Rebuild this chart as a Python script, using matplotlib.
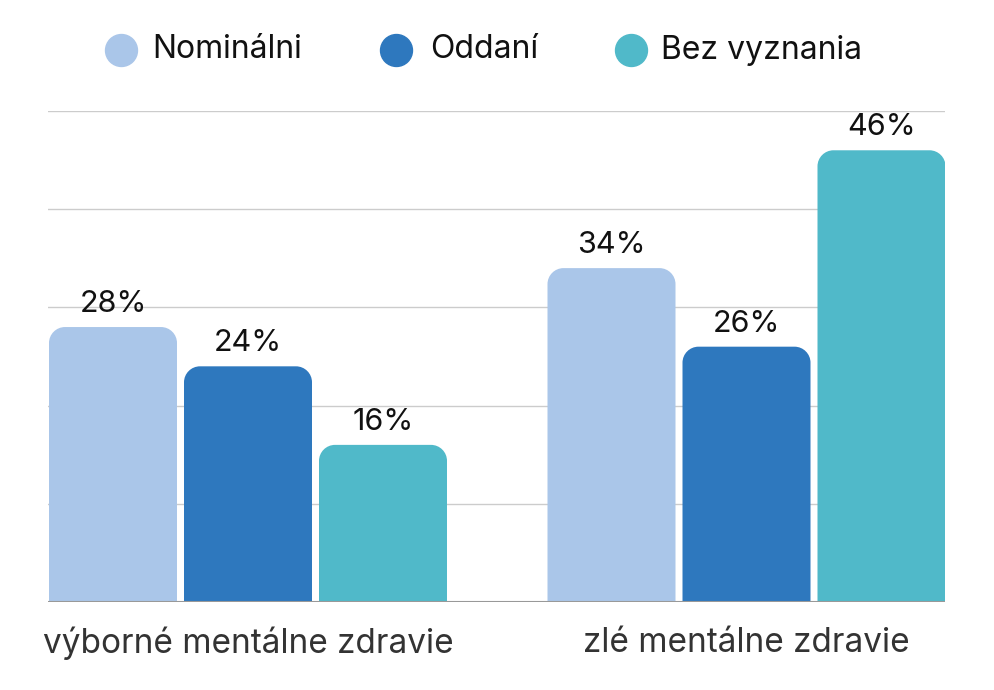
import matplotlib
matplotlib.use("Agg")
import matplotlib.pyplot as plt
from matplotlib.path import Path
from matplotlib.patches import PathPatch
import numpy as np

plt.rcParams['font.family'] = ['Inter', 'DejaVu Sans']

categories = ["výborné mentálne zdravie", "zlé mentálne zdravie"]
series_names = ["Nominálni", "Oddaní", "Bez vyznania"]
nominalni = [28, 34]
oddani = [24, 26]
bez_vyznania = [16, 46]
colors = ["#AAC6E9", "#2E78BE", "#50B9C9"]
gridvals = [10, 20, 30, 40, 50]

W, H = 994, 690
fig = plt.figure(figsize=(W/100, H/100), dpi=100)
ax = fig.add_axes([48/W, (H-602)/H, (945-48)/W, (602-111)/H])
xlim = (-200/498.5, 1 + 198.5/498.5)
ax.set_xlim(*xlim)
ax.set_ylim(0, 50)

px_x = (xlim[1]-xlim[0]) / (945-48)
px_y = 50 / (602-111)
r = 16
rx, ry = r*px_x, r*px_y

width = 128/498.5
step = 135/498.5
series = [nominalni, oddani, bez_vyznania]

for g in gridvals:
    ax.axhline(g, color="#CCCCCC", lw=1, zorder=0)
ax.axhline(0, color="#999999", lw=1.5, zorder=3)

def rounded_bar(x0, w, h, color):
    x1 = x0 + w
    k = 0.5523
    verts = [(x0, 0), (x0, h-ry), (x0, h-ry+k*ry), (x0+rx-k*rx, h), (x0+rx, h),
             (x1-rx, h), (x1-rx+k*rx, h), (x1, h-ry+k*ry), (x1, h-ry), (x1, 0), (x0, 0)]
    codes = [Path.MOVETO, Path.LINETO, Path.CURVE4, Path.CURVE4, Path.CURVE4,
             Path.LINETO, Path.CURVE4, Path.CURVE4, Path.CURVE4, Path.LINETO, Path.CLOSEPOLY]
    ax.add_patch(PathPatch(Path(verts, codes), facecolor=color, edgecolor='none', zorder=2))

for si, vals in enumerate(series):
    for gi, v in enumerate(vals):
        xc = gi + (si-1)*step
        rounded_bar(xc - width/2, width, v, colors[si])
        ax.text(xc, v + 9*px_y, f"{v}%", ha='center', va='bottom', fontsize=22, color='#111111')

ax.set_xticks([0, 1])
ax.set_xticklabels(categories, fontsize=24, color='#333333')
ax.tick_params(axis='x', length=0, pad=18)
ax.set_yticks([])
for s in ax.spines.values():
    s.set_visible(False)

# legend
leg_circ_x = [121, 396, 631]
leg_text_x = [152, 430, 661]
ly = (H-50)/H
for i, name in enumerate(series_names):
    fig.add_artist(plt.Line2D([leg_circ_x[i]/W], [ly], marker='o', markersize=23,
                              color=colors[i], linestyle='none', transform=fig.transFigure))
    fig.text(leg_text_x[i]/W, ly, name, fontsize=23, va='center', ha='left', color='#111111')

fig.savefig("out.png", dpi=100, facecolor='white')
